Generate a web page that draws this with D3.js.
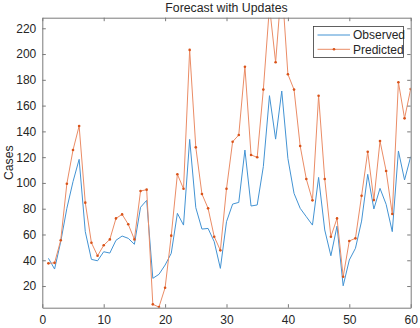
<!DOCTYPE html>
<html>
<head>
<meta charset="utf-8">
<script src="https://cdn.jsdelivr.net/npm/d3@7"></script>
<style>
body { margin: 0; background: #fff; }
text { font-family: "Liberation Sans", Arial, sans-serif; fill: #262626; }
</style>
</head>
<body>
<script>
var days = d3.range(1, 61);
var observed = [41.5, 33.2, 54.4, 80.3, 101, 118.3, 62.2, 40.7, 39.6, 46.6,
    45.6, 55.5, 58.8, 57, 52.4, 81.1, 86.5, 26, 29.1, 36.3,
    45.4, 76.4, 67.3, 133.8, 80.8, 64.2, 64.7, 54.4, 33.7, 69.9,
    83.6, 84.9, 125.5, 82.1, 82.9, 112.7, 167.7, 134, 171.3, 119,
    91.9, 80.3, 73.8, 67.3, 104.3, 63.5, 43.5, 66.5, 20.2, 40.2,
    49.3, 70.4, 106.7, 79.8, 95.8, 83.4, 62.2, 124.8, 102.3, 120.4];
var predicted = [37.6, 38, 55.5, 99.4, 125.5, 144.2, 84.7, 53.6, 43.5, 51.6,
    56.2, 72.5, 75.6, 67.9, 56.2, 93.7, 94.8, 5.8, 3.7, 18.7,
    59.1, 106.7, 95.5, 203.2, 127.6, 91.4, 80.3, 58.3, 47.7, 95.5,
    132, 137.2, 190.2, 121.7, 119.9, 172.4, 237, 193.6, 255, 184.3,
    172.4, 128.6, 103, 86.5, 167.7, 103, 58.3, 72.5, 27.2, 55,
    57, 90.1, 124.2, 86.7, 132.5, 109.3, 75.9, 178.1, 150.1, 172.9];
var xTicks = [0, 10, 20, 30, 40, 50, 60];
var yTicks = [20, 40, 60, 80, 100, 120, 140, 160, 180, 200, 220];
var seriesNames = ['Observed', 'Predicted'];

var width = 420, height = 328;
var plotLeft = 42.3, plotRight = 410.7, plotTop = 17.7, plotBottom = 307.7;
var axisColor = '#7a7a7a';
var blue = '#4393d3';
var orange = '#ea8c66';
var marker = '#d95319';

function main() {
  var svg = d3.select('body').append('svg')
      .attr('width', width)
      .attr('height', height);

  var x = d3.scaleLinear().domain([0, 60]).range([plotLeft, plotRight]);
  var y = d3.scaleLinear().domain([3.2, 228.2]).range([plotBottom, plotTop]);

  svg.append('clipPath').attr('id', 'plot')
    .append('rect')
      .attr('x', plotLeft).attr('y', plotTop)
      .attr('width', plotRight - plotLeft).attr('height', plotBottom - plotTop);

  var line = d3.line()
      .x(function(d, i) { return x(days[i]); })
      .y(function(d) { return y(d); });

  var plot = svg.append('g').attr('clip-path', 'url(#plot)');

  plot.append('path')
      .datum(observed)
      .attr('d', line)
      .style('fill', 'none')
      .style('stroke', blue)
      .style('stroke-width', 1);

  plot.append('path')
      .datum(predicted)
      .attr('d', line)
      .style('fill', 'none')
      .style('stroke', orange)
      .style('stroke-width', 1);

  plot.selectAll('.pt')
      .data(predicted)
      .enter().append('circle')
      .attr('class', 'pt')
      .attr('cx', function(d, i) { return x(days[i]); })
      .attr('cy', function(d) { return y(d); })
      .attr('r', 1.3)
      .style('fill', marker);

  // axes, MATLAB style: ticks inside, box on
  var tickLen = 3.5;
  svg.append('g')
      .attr('transform', 'translate(0,' + plotBottom + ')')
      .call(d3.axisBottom(x).tickValues(xTicks).tickSizeInner(-tickLen).tickSizeOuter(0).tickPadding(8))
      .call(styleAxis);
  svg.append('g')
      .attr('transform', 'translate(0,' + plotTop + ')')
      .call(d3.axisTop(x).tickValues(xTicks).tickSizeInner(-tickLen).tickSizeOuter(0).tickFormat(''))
      .call(styleAxis);
  svg.append('g')
      .attr('transform', 'translate(' + plotLeft + ',0)')
      .call(d3.axisLeft(y).tickValues(yTicks).tickSizeInner(-tickLen).tickSizeOuter(0).tickPadding(6))
      .call(styleAxis);
  svg.append('g')
      .attr('transform', 'translate(' + plotRight + ',0)')
      .call(d3.axisRight(y).tickValues(yTicks).tickSizeInner(-tickLen).tickSizeOuter(0).tickFormat(''))
      .call(styleAxis);

  svg.append('text')
      .attr('x', (plotLeft + plotRight) / 2)
      .attr('y', 12)
      .attr('text-anchor', 'middle')
      .style('font-size', '12.3px')
      .text('Forecast with Updates');

  svg.append('text')
      .attr('transform', 'translate(13.3,' + (plotTop + plotBottom) / 2 + ') rotate(-90)')
      .attr('text-anchor', 'middle')
      .style('font-size', '12.3px')
      .text('Cases');

  // legend
  var lg = svg.append('g');
  lg.append('rect')
      .attr('x', 313.5).attr('y', 26.5)
      .attr('width', 90).attr('height', 31)
      .style('fill', '#fff')
      .style('stroke', '#3a3a3a')
      .style('stroke-width', 0.8);
  var rows = lg.selectAll('.lrow')
      .data(seriesNames)
      .enter().append('g')
      .attr('class', 'lrow')
      .attr('transform', function(d, i) { return 'translate(0,' + (35 + i * 14.3) + ')'; });
  rows.append('line')
      .attr('x1', 317.5).attr('x2', 350)
      .attr('y1', 0).attr('y2', 0)
      .style('stroke', function(d, i) { return i == 0 ? blue : orange; })
      .style('stroke-width', 1);
  rows.filter(function(d, i) { return i == 1; })
    .append('circle')
      .attr('cx', 334).attr('cy', 0).attr('r', 1.3)
      .style('fill', marker);
  rows.append('text')
      .attr('x', 353)
      .attr('y', 4.3)
      .style('font-size', '12px')
      .text(function(d) { return d; });
}

function styleAxis(g) {
  g.select('.domain').style('stroke', axisColor).style('stroke-width', 1);
  g.selectAll('.tick line').style('stroke', axisColor).style('stroke-width', 1);
  g.selectAll('.tick text')
      .style('font-size', '12px')
      .style('font-family', '"Liberation Sans", Arial, sans-serif')
      .style('fill', '#262626');
}

main();
</script>
</body>
</html>
